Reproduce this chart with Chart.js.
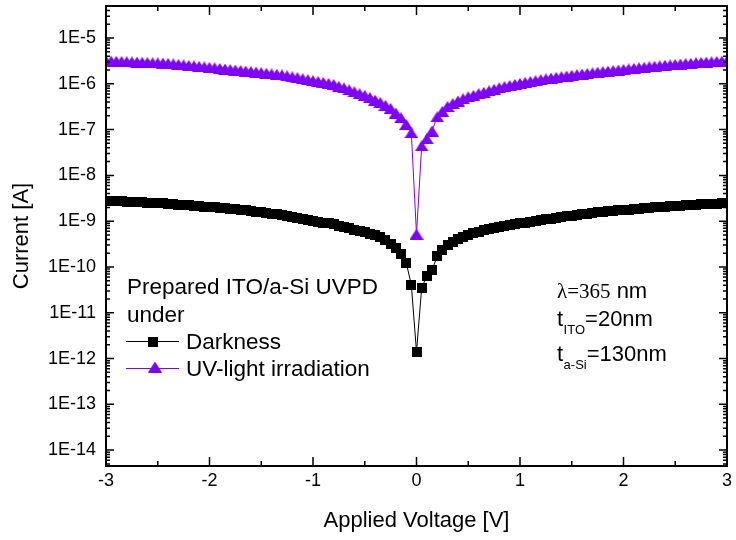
<!DOCTYPE html>
<html>
<head>
<meta charset="utf-8">
<script src="https://cdn.jsdelivr.net/npm/chart.js@4.4.1/dist/chart.umd.min.js"></script>
<style>
html,body{margin:0;padding:0;background:#fff;}
#wrap{width:736px;height:540px;position:relative;}
</style>
</head>
<body>
<div id="wrap"><canvas id="c" width="736" height="540"></canvas></div>
<script>
// ---------------- data ----------------
const voltages = [
 -3.00,-2.95,-2.90,-2.85,-2.80,-2.75,-2.70,-2.65,-2.60,-2.55,-2.50,-2.45,-2.40,-2.35,-2.30,-2.25,-2.20,-2.15,-2.10,-2.05,
 -2.00,-1.95,-1.90,-1.85,-1.80,-1.75,-1.70,-1.65,-1.60,-1.55,-1.50,-1.45,-1.40,-1.35,-1.30,-1.25,-1.20,-1.15,-1.10,-1.05,
 -1.00,-0.95,-0.90,-0.85,-0.80,-0.75,-0.70,-0.65,-0.60,-0.55,-0.50,-0.45,-0.40,-0.35,-0.30,-0.25,-0.20,-0.15,-0.10,-0.05,
 0.00,
 0.05,0.10,0.15,0.20,0.25,0.30,0.35,0.40,0.45,0.50,0.55,0.60,0.65,0.70,0.75,0.80,0.85,0.90,0.95,1.00,
 1.05,1.10,1.15,1.20,1.25,1.30,1.35,1.40,1.45,1.50,1.55,1.60,1.65,1.70,1.75,1.80,1.85,1.90,1.95,2.00,
 2.05,2.10,2.15,2.20,2.25,2.30,2.35,2.40,2.45,2.50,2.55,2.60,2.65,2.70,2.75,2.80,2.85,2.90,2.95,3.00
];
const darkCurrent = [
 2.82e-9,2.78e-9,2.75e-9,2.72e-9,2.68e-9,2.65e-9,2.61e-9,2.58e-9,2.54e-9,2.51e-9,2.47e-9,2.44e-9,2.40e-9,2.35e-9,2.31e-9,2.26e-9,2.22e-9,2.18e-9,2.13e-9,2.09e-9,
 2.05e-9,2.01e-9,1.97e-9,1.93e-9,1.89e-9,1.85e-9,1.79e-9,1.73e-9,1.67e-9,1.61e-9,1.56e-9,1.50e-9,1.45e-9,1.40e-9,1.35e-9,1.30e-9,1.24e-9,1.18e-9,1.13e-9,1.08e-9,
 1.03e-9,9.8e-10,9.35e-10,8.9e-10,8.5e-10,7.98e-10,7.5e-10,7.0e-10,6.55e-10,6.1e-10,5.7e-10,5.3e-10,4.9e-10,4.4e-10,3.9e-10,3.2e-10,2.6e-10,1.9e-10,1.25e-10,4.1e-11,
 1.4e-12,
 3.5e-11,6.4e-11,8.6e-11,1.7e-10,2.4e-10,3.0e-10,3.5e-10,4.0e-10,4.6e-10,5.1e-10,5.5e-10,5.9e-10,6.3e-10,6.7e-10,7.1e-10,7.5e-10,7.8e-10,8.2e-10,8.5e-10,8.9e-10,
 9.3e-10,9.7e-10,1.01e-9,1.06e-9,1.10e-9,1.14e-9,1.18e-9,1.22e-9,1.27e-9,1.31e-9,1.36e-9,1.41e-9,1.46e-9,1.51e-9,1.56e-9,1.60e-9,1.64e-9,1.67e-9,1.71e-9,1.75e-9,
 1.79e-9,1.84e-9,1.88e-9,1.93e-9,1.97e-9,2.00e-9,2.04e-9,2.07e-9,2.11e-9,2.14e-9,2.18e-9,2.22e-9,2.26e-9,2.30e-9,2.34e-9,2.37e-9,2.40e-9,2.43e-9,2.46e-9,2.50e-9
];
const uvCurrent = [
 3.15e-6,3.12e-6,3.09e-6,3.06e-6,3.03e-6,3.00e-6,2.97e-6,2.94e-6,2.91e-6,2.88e-6,2.85e-6,2.82e-6,2.79e-6,2.72e-6,2.65e-6,2.58e-6,2.52e-6,2.46e-6,2.40e-6,2.34e-6,
 2.28e-6,2.22e-6,2.16e-6,2.10e-6,2.05e-6,2.00e-6,1.95e-6,1.90e-6,1.85e-6,1.80e-6,1.75e-6,1.70e-6,1.65e-6,1.61e-6,1.56e-6,1.49e-6,1.42e-6,1.36e-6,1.29e-6,1.23e-6,
 1.17e-6,1.12e-6,1.07e-6,1.02e-6,9.7e-7,8.8e-7,8.1e-7,7.4e-7,6.7e-7,6.1e-7,5.6e-7,5.0e-7,4.4e-7,3.9e-7,3.4e-7,2.9e-7,2.3e-7,1.8e-7,1.3e-7,8.5e-8,
 5.2e-10,
 4.4e-8,6.3e-8,9.3e-8,1.9e-7,2.5e-7,3.2e-7,3.7e-7,4.2e-7,4.7e-7,5.2e-7,5.6e-7,6.1e-7,6.5e-7,7.0e-7,7.6e-7,8.2e-7,8.7e-7,9.2e-7,9.7e-7,1.02e-6,
 1.07e-6,1.12e-6,1.17e-6,1.23e-6,1.28e-6,1.33e-6,1.38e-6,1.43e-6,1.48e-6,1.53e-6,1.58e-6,1.63e-6,1.68e-6,1.73e-6,1.79e-6,1.84e-6,1.89e-6,1.94e-6,1.99e-6,2.05e-6,
 2.11e-6,2.17e-6,2.23e-6,2.29e-6,2.35e-6,2.41e-6,2.47e-6,2.53e-6,2.58e-6,2.64e-6,2.70e-6,2.76e-6,2.81e-6,2.87e-6,2.92e-6,2.97e-6,3.02e-6,3.06e-6,3.10e-6,3.14e-6
];
const seriesNames = ['Darkness', 'UV-light irradiation'];
const legendHeading = ['Prepared ITO/a-Si UVPD', 'under'];
const xMajorTicks = [-3, -2, -1, 0, 1, 2, 3];
const xMinorTicks = [-2.5, -1.5, -0.5, 0.5, 1.5, 2.5];
const yDecadeExponents = [-14, -13, -12, -11, -10, -9, -8, -7, -6, -5];
const yMinorMultipliers = [2, 3, 4, 5, 6, 7, 8, 9];
const xRange = [-3, 3];
const yRange = [4.5e-15, 5e-5];

// ---------------- styles ----------------
const SANS = '"Liberation Sans", Arial, sans-serif';
const SERIF = '"Liberation Serif", "Times New Roman", serif';
const PURPLE = '#8000ff';

function squareMarker(size, color) {
  const c = document.createElement('canvas');
  c.width = size; c.height = size;
  const g = c.getContext('2d');
  g.fillStyle = color; g.fillRect(0, 0, size, size);
  return c;
}
function triangleMarker(w, h, color) {
  const c = document.createElement('canvas');
  c.width = w; c.height = h;
  const g = c.getContext('2d');
  g.fillStyle = color;
  g.beginPath(); g.moveTo(w / 2, 0); g.lineTo(w, h); g.lineTo(0, h); g.closePath(); g.fill();
  return c;
}
const sqImg = squareMarker(10, '#000');
const triImg = triangleMarker(14, 11, PURPLE);

const decor = {
  id: 'decor',
  afterDatasetsDraw(chart) {
    const { ctx, chartArea: a, scales: { x, y } } = chart;
    ctx.save();
    // inward ticks
    ctx.strokeStyle = '#000';
    ctx.lineWidth = 1.5;
    ctx.beginPath();
    const xt = (v, len) => {
      const p = x.getPixelForValue(v);
      ctx.moveTo(p, a.bottom); ctx.lineTo(p, a.bottom - len);
      ctx.moveTo(p, a.top); ctx.lineTo(p, a.top + len);
    };
    const yt = (v, len) => {
      const p = y.getPixelForValue(v);
      if (p < a.top - 0.5 || p > a.bottom + 0.5) return;
      ctx.moveTo(a.left, p); ctx.lineTo(a.left + len, p);
      ctx.moveTo(a.right, p); ctx.lineTo(a.right - len, p);
    };
    xMajorTicks.forEach(v => xt(v, 9));
    xMinorTicks.forEach(v => xt(v, 5));
    const decs = [yDecadeExponents[0] - 1].concat(yDecadeExponents);
    decs.forEach(e => {
      const d = Math.pow(10, e);
      if (yDecadeExponents.includes(e)) yt(d, 8);
      yMinorMultipliers.forEach(m => yt(m * d, 4));
    });
    ctx.stroke();
    // frame
    ctx.lineWidth = 2;
    ctx.strokeRect(a.left, a.top, a.right - a.left, a.bottom - a.top);

    // legend block
    ctx.fillStyle = '#000';
    ctx.textAlign = 'left';
    ctx.textBaseline = 'alphabetic';
    ctx.font = '22.5px ' + SANS;
    ctx.fillText(legendHeading[0], 127, 294);
    ctx.fillText(legendHeading[1], 127, 322);
    ctx.lineWidth = 1;
    ctx.strokeStyle = '#000';
    ctx.beginPath(); ctx.moveTo(126, 341.5); ctx.lineTo(179, 341.5); ctx.stroke();
    ctx.drawImage(sqImg, 153 - 5, 341.5 - 5);
    ctx.fillText(seriesNames[0], 186, 349);
    ctx.strokeStyle = PURPLE;
    ctx.beginPath(); ctx.moveTo(126, 368.5); ctx.lineTo(179, 368.5); ctx.stroke();
    ctx.drawImage(triImg, 155 - 7, 367 - 5.5);
    ctx.fillText(seriesNames[1], 186, 376);

    // annotation
    let xx = 557;
    ctx.font = '21px ' + SERIF;
    ctx.fillText('\u03bb=365', xx, 298);
    xx += ctx.measureText('\u03bb=365').width;
    ctx.font = '22px ' + SANS;
    ctx.fillText(' nm', xx, 298);

    const sub = (main, subTxt, rest, base) => {
      let px = 557;
      ctx.font = '22px ' + SANS;
      ctx.fillText(main, px, base);
      px += ctx.measureText(main).width + 0.5;
      ctx.font = '13px ' + SANS;
      ctx.fillText(subTxt, px, base + 8);
      px += ctx.measureText(subTxt).width;
      ctx.font = '22px ' + SANS;
      ctx.fillText(rest, px, base);
    };
    sub('t', 'ITO', '=20nm', 326);
    sub('t', 'a-Si', '=130nm', 361);
    ctx.restore();
  }
};

Chart.defaults.font.family = SANS;
Chart.defaults.color = '#000';

new Chart(document.getElementById('c'), {
  type: 'line',
  data: {
    datasets: [
      {
        label: seriesNames[0],
        data: voltages.map((v, i) => ({ x: v, y: darkCurrent[i] })),
        borderColor: '#000', borderWidth: 1, backgroundColor: '#000',
        pointStyle: sqImg, pointRadius: 5, tension: 0, clip: 0
      },
      {
        label: seriesNames[1],
        data: voltages.map((v, i) => ({ x: v, y: uvCurrent[i] })),
        borderColor: PURPLE, borderWidth: 1, backgroundColor: PURPLE,
        pointStyle: triImg, pointRadius: 5, tension: 0, clip: 0
      }
    ]
  },
  options: {
    responsive: false,
    animation: false,
    devicePixelRatio: 1,
    layout: { padding: { left: 0, right: 9, top: 6, bottom: 0 } },
    plugins: { legend: { display: false }, tooltip: { enabled: false } },
    scales: {
      x: {
        type: 'linear', min: xRange[0], max: xRange[1],
        afterBuildTicks: s => { s.ticks = xMajorTicks.map(v => ({ value: v })); },
        afterFit: s => { s.height = 74; s.paddingLeft = 0; s.paddingRight = 0; },
        grid: { display: false, drawTicks: false },
        border: { display: false },
        ticks: { font: { size: 18 }, color: '#000', padding: 4, autoSkip: false, maxRotation: 0,
                 callback: v => String(v) },
        title: { display: true, text: 'Applied Voltage [V]', color: '#000',
                 font: { size: 22 }, padding: { top: 0, bottom: 6 } }
      },
      y: {
        type: 'logarithmic', min: yRange[0], max: yRange[1],
        afterBuildTicks: s => { s.ticks = yDecadeExponents.map(e => ({ value: Math.pow(10, e) })); },
        afterFit: s => { s.width = 106; s.paddingTop = 0; s.paddingBottom = 0; },
        grid: { display: false, drawTicks: false },
        border: { display: false },
        ticks: { font: { size: 18 }, color: '#000', padding: 10, autoSkip: false,
                 callback: v => '1E' + Math.round(Math.log10(v)) },
        title: { display: true, text: 'Current [A]', color: '#000',
                 font: { size: 22 }, padding: { top: 9, bottom: 0 } }
      }
    }
  },
  plugins: [decor]
});
</script>
</body>
</html>
